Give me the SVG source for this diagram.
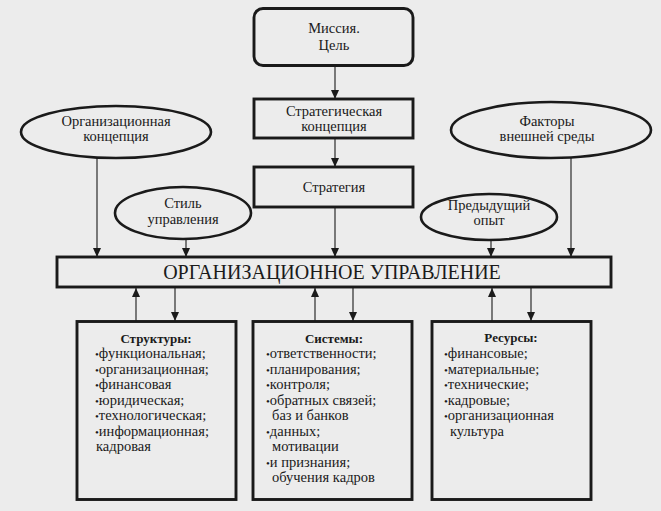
<svg xmlns="http://www.w3.org/2000/svg" width="661" height="511" viewBox="0 0 661 511" font-family="'Liberation Serif', 'Times New Roman', serif">
<style>
  .bg{fill:#ececec}
  .box{fill:none;stroke:#1a1a1a;stroke-width:2.9}
  .ell{fill:none;stroke:#1a1a1a;stroke-width:2.6}
  .conn line{stroke:#1a1a1a;stroke-width:1.1;fill:none}
  text{font-family:'Liberation Serif','Times New Roman',serif;fill:#1a1a1a}
  .lbl{font-size:14.5px;text-anchor:middle}
  .main{font-size:20px;text-anchor:middle}
  .hd{font-size:13px;font-weight:bold;text-anchor:middle}
  .it{font-size:14.5px}
  .b{font-size:11px}
</style>
<defs>
  <marker id="ah" markerUnits="userSpaceOnUse" markerWidth="10" markerHeight="10" refX="9" refY="5" orient="auto">
    <path d="M0,1 L9,5 L0,9 Z" fill="#1a1a1a"/>
  </marker>
</defs>
<rect class="bg" x="0" y="0" width="661" height="511"/>

<g class="conn">
  <line x1="335" y1="66" x2="335" y2="99" marker-end="url(#ah)"/>
  <line x1="335" y1="139" x2="335" y2="167" marker-end="url(#ah)"/>
  <line x1="335" y1="208" x2="335" y2="257" marker-end="url(#ah)"/>
  <line x1="97" y1="158" x2="97" y2="257" marker-end="url(#ah)"/>
  <line x1="186" y1="239" x2="186" y2="257" marker-end="url(#ah)"/>
  <line x1="491" y1="239" x2="491" y2="257" marker-end="url(#ah)"/>
  <line x1="571" y1="158" x2="571" y2="257" marker-end="url(#ah)"/>
  <line x1="136" y1="321" x2="136" y2="288" marker-end="url(#ah)"/>
  <line x1="315" y1="321" x2="315" y2="288" marker-end="url(#ah)"/>
  <line x1="492" y1="321" x2="492" y2="288" marker-end="url(#ah)"/>
  <line x1="175" y1="288" x2="175" y2="321" marker-end="url(#ah)"/>
  <line x1="353" y1="288" x2="353" y2="321" marker-end="url(#ah)"/>
  <line x1="531" y1="288" x2="531" y2="321" marker-end="url(#ah)"/>
</g>

<g id="mission">
  <rect class="box" x="254" y="8.5" width="159" height="57" rx="9"/>
  <text class="lbl" x="334" y="33">Миссия.</text>
  <text class="lbl" x="334" y="50">Цель</text>
</g>
<g id="strat-concept">
  <rect class="box" x="254" y="99" width="159" height="39"/>
  <text class="lbl" x="334" y="116">Стратегическая</text>
  <text class="lbl" x="334" y="131">концепция</text>
</g>
<g id="strategy">
  <rect class="box" x="254" y="167" width="159" height="40"/>
  <text class="lbl" x="334" y="192">Стратегия</text>
</g>
<g id="org-concept">
  <ellipse class="ell" cx="116" cy="132" rx="95" ry="26"/>
  <text class="lbl" x="116" y="126">Организационная</text>
  <text class="lbl" x="116" y="141">концепция</text>
</g>
<g id="factors">
  <ellipse class="ell" cx="551" cy="130" rx="100" ry="28"/>
  <text class="lbl" x="547" y="126">Факторы</text>
  <text class="lbl" x="547" y="141">внешней среды</text>
</g>
<g id="style">
  <ellipse class="ell" cx="183" cy="213" rx="68" ry="26"/>
  <text class="lbl" x="183" y="208">Стиль</text>
  <text class="lbl" x="183" y="224">управления</text>
</g>
<g id="prev">
  <ellipse class="ell" cx="489" cy="217" rx="68" ry="23"/>
  <text class="lbl" x="489" y="210">Предыдущий</text>
  <text class="lbl" x="489" y="225">опыт</text>
</g>
<g id="org-mgmt">
  <rect class="box" x="57" y="257" width="554" height="30"/>
  <text class="main" x="332" y="279">ОРГАНИЗАЦИОННОЕ УПРАВЛЕНИЕ</text>
</g>
<g id="structures">
  <rect class="box" x="77" y="321.5" width="159" height="178"/>
  <text class="hd" x="156" y="343">Структуры:</text>
  <text class="it" x="95" y="358"><tspan class="b">•</tspan>функциональная;</text>
  <text class="it" x="95" y="373.5"><tspan class="b">•</tspan>организационная;</text>
  <text class="it" x="95" y="389"><tspan class="b">•</tspan>финансовая</text>
  <text class="it" x="95" y="404.5"><tspan class="b">•</tspan>юридическая;</text>
  <text class="it" x="95" y="420"><tspan class="b">•</tspan>технологическая;</text>
  <text class="it" x="95" y="435.5"><tspan class="b">•</tspan>информационная;</text>
  <text class="it" x="96" y="451">кадровая</text>
</g>
<g id="systems">
  <rect class="box" x="253" y="321.5" width="159" height="178"/>
  <text class="hd" x="334" y="343">Системы:</text>
  <text class="it" x="266" y="358"><tspan class="b">•</tspan>ответственности;</text>
  <text class="it" x="266" y="373.5"><tspan class="b">•</tspan>планирования;</text>
  <text class="it" x="266" y="389"><tspan class="b">•</tspan>контроля;</text>
  <text class="it" x="266" y="404.5"><tspan class="b">•</tspan>обратных связей;</text>
  <text class="it" x="272" y="420">баз и банков</text>
  <text class="it" x="266" y="435.5"><tspan class="b">•</tspan>данных;</text>
  <text class="it" x="272" y="451">мотивации</text>
  <text class="it" x="266" y="466.5"><tspan class="b">•</tspan>и признания;</text>
  <text class="it" x="272" y="482">обучения кадров</text>
</g>
<g id="resources">
  <rect class="box" x="432" y="321.5" width="159" height="178"/>
  <text class="hd" x="511" y="342">Ресурсы:</text>
  <text class="it" x="444" y="358"><tspan class="b">•</tspan>финансовые;</text>
  <text class="it" x="444" y="373.5"><tspan class="b">•</tspan>материальные;</text>
  <text class="it" x="444" y="389"><tspan class="b">•</tspan>технические;</text>
  <text class="it" x="444" y="404.5"><tspan class="b">•</tspan>кадровые;</text>
  <text class="it" x="444" y="420"><tspan class="b">•</tspan>организационная</text>
  <text class="it" x="450" y="435.5">культура</text>
</g>
</svg>
